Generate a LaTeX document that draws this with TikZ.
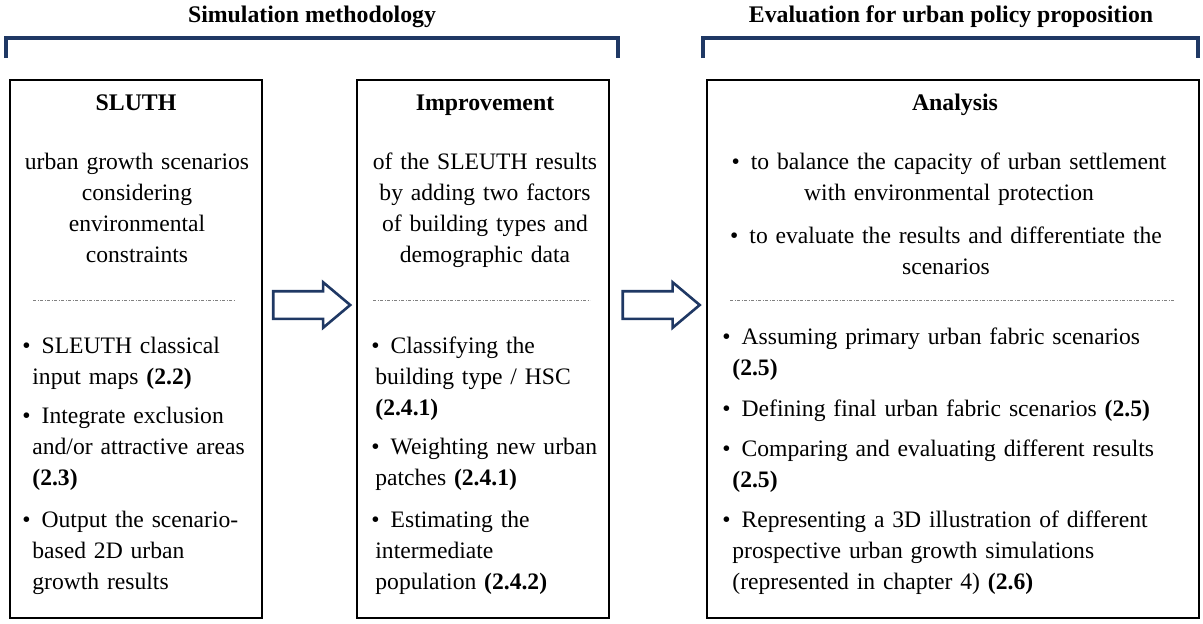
\documentclass[tikz,border=0pt]{standalone}
\usepackage{fontspec}
\setmainfont{Liberation Serif}
\usetikzlibrary{shapes.arrows, calc}
\definecolor{navy}{HTML}{1F3864}
\newcommand{\bul}{\textbullet\hspace{5.5pt}}
\newcommand{\ind}{\hspace*{5pt}}
\newcommand{\indb}{\hspace*{2pt}}

\begin{document}
\begin{tikzpicture}[x=0.5pt, y=-0.5pt]
        \tikzstyle{frame}=[draw=black, line width=0.8pt, minimum height=269pt, inner sep=0pt]
        \tikzstyle{bracket}=[draw=navy, line width=1.6pt]
        \tikzstyle{heading}=[font=\bfseries\fontsize{11.9}{14}\selectfont, inner sep=0pt, anchor=base]
        \tikzstyle{txt}=[font=\fontsize{11.8}{15.5}\selectfont, inner sep=0pt, anchor=base]
        \tikzstyle{desc}=[txt, text width=122pt, align=center]
        \tikzstyle{point}=[txt, anchor=base west, text width=120pt, align=left]
        \tikzstyle{widepoint}=[point, text width=238pt]
        \tikzstyle{sep}=[gray, line width=0.5pt, dash pattern=on 1.5pt off 0.8pt on 0.4pt off 0.8pt]
        \tikzstyle{blockarrow}=[single arrow, draw=navy, line width=1.3pt, fill=white,
            minimum height=38.5pt, inner xsep=0pt, inner ysep=6.25pt,
            single arrow head extend=4.5pt, single arrow tip angle=80, single arrow head indent=0pt]

        \useasboundingbox (0,0) rectangle (1203,623);

        % headings and brackets
        \node[heading] (simtitle) at (312, 22) {Simulation methodology};
        \node[heading] (evaltitle) at (951, 22) {Evaluation for urban policy proposition};
        \draw[bracket] (6, 58) -- (6, 38) -- (618, 38) -- (618, 58);
        \draw[bracket] (703, 58) -- (703, 38) -- (1198, 38) -- (1198, 58);

        % boxes
        \node[frame, minimum width=126pt] (sluth) at (136, 349) {};
        \node[frame, minimum width=126pt] (improve) at (483, 349) {};
        \node[frame, minimum width=246pt] (analysis) at (953, 349) {};

        \node[blockarrow] (arr1) at ($(sluth.east)!0.5!(improve.west) + (-6, -44)$) {};
        \node[blockarrow] (arr2) at ($(improve.east)!0.5!(analysis.west) + (-5, -44)$) {};

	% SLUTH
        \node[heading] (t1) at (136, 110) {SLUTH};
        \node[desc] (d1) at (137, 169) {urban growth scenarios\\considering\\environmental\\constraints};
        \draw[sep] (33, 300) -- (235, 300);
        \node[point] (p11) at (22, 353) {\bul SLEUTH classical\\\ind input maps \textbf{(2.2)}};
        \node[point] (p12) at (22, 423) {\bul Integrate exclusion\\\ind and/or attractive areas\\\ind \textbf{(2.3)}};
        \node[point] (p13) at (22, 527) {\bul Output the scenario-\\\ind based 2D urban\\\ind growth results};

	% Improvement
        \node[heading] (t2) at (485, 110) {Improvement};
        \node[desc] (d2) at (485, 169) {of the SLEUTH results\\by adding two factors\\of building types and\\demographic data};
        \draw[sep] (373, 300) -- (590, 300);
        \node[point] (p21) at (371, 353) {\bul Classifying the\\\indb building type / HSC\\\indb \textbf{(2.4.1)}};
        \node[point] (p22) at (371, 454) {\bul Weighting new urban\\\indb patches \textbf{(2.4.1)}};
        \node[point] (p23) at (371, 527) {\bul Estimating the\\\indb intermediate\\\indb population \textbf{(2.4.2)}};

	% Analysis
        \node[heading] (t3) at (955, 110) {Analysis};
        \node[desc, text width=238pt] (c31) at (949, 169) {\bul to balance the capacity of urban settlement\\with environmental protection};
        \node[desc, text width=238pt] (c32) at (946, 243) {\bul to evaluate the results and differentiate the\\scenarios};
        \draw[sep] (730, 300) -- (1175, 300);
        \node[widepoint] (p31) at (722, 344) {\bul Assuming primary urban fabric scenarios\\\ind \textbf{(2.5)}};
        \node[widepoint] (p32) at (722, 416) {\bul Defining final urban fabric scenarios \textbf{(2.5)}};
        \node[widepoint] (p33) at (722, 456) {\bul Comparing and evaluating different results\\\ind \textbf{(2.5)}};
        \node[widepoint] (p34) at (722, 527) {\bul Representing a 3D illustration of different\\\ind prospective urban growth simulations\\\ind (represented in chapter 4) \textbf{(2.6)}};
    \end{tikzpicture}
\end{document}
